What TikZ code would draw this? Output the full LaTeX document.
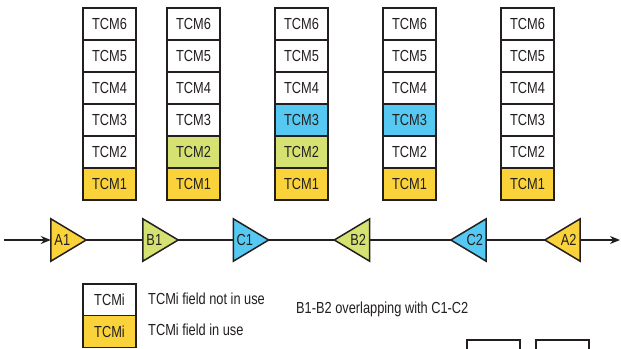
\documentclass[tikz,border=0pt]{standalone}
\usepackage{fontspec}
\setmainfont{Liberation Sans}[FakeStretch=0.8]
\usetikzlibrary{arrows.meta,calc}
\definecolor{tcmyellow}{HTML}{FAD23A}
\definecolor{tcmgreen}{HTML}{D5E271}
\definecolor{tcmblue}{HTML}{55C9F2}
\definecolor{ink}{HTML}{231F20}

\tikzset{
  cell/.style={draw=ink, line width=1.6pt, fill=white, minimum width=53pt,
    minimum height=32pt, inner sep=0pt, text=ink,
    font=\fontsize{16}{16}\selectfont},
  tribox/.style={minimum width=35pt, minimum height=42pt, inner sep=0pt},
  amp/.style={draw=ink, line width=1.5pt, line join=miter},
  link/.style={draw=ink, line width=1.4pt},
  tag/.style={text=ink, inner sep=0pt, font=\fontsize{16}{16}\selectfont},
  note/.style={text=ink, inner sep=0pt, anchor=west, font=\fontsize{16}{16}\selectfont},
}

% amplifier pointing right: name, x centre, fill
\newcommand\ampright[3]{%
  \node[tribox] (#1) at (#2,240) {};
  \path[amp, fill=#3] (#1.north west) -- (#1.east) -- (#1.south west) -- cycle;
  \node[tag] (#1-txt) at ($(#1.west)+(11.5,0)$) {#1};
}
% amplifier pointing left: name, x centre, fill
\newcommand\ampleft[3]{%
  \node[tribox] (#1) at (#2,240) {};
  \path[amp, fill=#3] (#1.north east) -- (#1.west) -- (#1.south east) -- cycle;
  \node[tag] (#1-txt) at ($(#1.east)+(-11.5,0)$) {#1};
}

\begin{document}
\begin{tikzpicture}[x=1pt,y=-1pt]
\fill[white] (0,0) rectangle (621,348);
\useasboundingbox (0,0) rectangle (621,348);
\clip (0,0) rectangle (621,348);

% TCM stacks: column index / left edge / fills of TCM1..TCM3
\foreach \c/\x/\fa/\fb/\fc in {1/83/tcmyellow/white/white,
                               2/167/tcmyellow/tcmgreen/white,
                               3/275/tcmyellow/tcmgreen/tcmblue,
                               4/383/tcmyellow/white/tcmblue,
                               5/501/tcmyellow/white/white}{
  \foreach \k/\f in {6/white,5/white,4/white,3/\fc,2/\fb,1/\fa}{
    \node[cell, fill=\f] (s\c-\k) at ({\x+26.5},{24+32*(6-\k)}) {TCM\k};
  }
}

% amplifiers along the trail
\ampright{A1}{68.5}{tcmyellow}
\ampright{B1}{160.5}{tcmgreen}
\ampright{C1}{251}{tcmblue}
\ampleft{B2}{352}{tcmgreen}
\ampleft{C2}{468.5}{tcmblue}
\ampleft{A2}{562.5}{tcmyellow}

\coordinate (in) at (4,240);
\coordinate (out) at (620,240);
\draw[link, -{Stealth[length=10pt,width=8pt]}] (in) -- (A1.west);
\draw[link] (A1.east) -- (B1.west);
\draw[link] (B1.east) -- (C1.west);
\draw[link] (C1.east) -- (B2.west);
\draw[link] (B2.east) -- (C2.west);
\draw[link] (C2.east) -- (A2.west);
\draw[link, -{Stealth[length=10pt,width=8pt]}] (A2.east) -- (out);

% legend
\node[cell, fill=white] (lg-free) at (109.5,300) {TCMi};
\node[cell, fill=tcmyellow] (lg-used) at (109.5,331.5) {TCMi};
\node[note] (lg-free-txt) at (148,299) {TCMi field not in use};
\node[note] (lg-used-txt) at (148,330) {TCMi field in use};
\node[note] (caption) at (296,309) {B1-B2 overlapping with C1-C2};

% next panel, cut off by the page edge
\node[cell, anchor=north west, minimum height=40pt] (nx1) at (466,339) {};
\node[cell, anchor=north west, minimum height=40pt] (nx2) at (535,339) {};
\end{tikzpicture}
\end{document}
